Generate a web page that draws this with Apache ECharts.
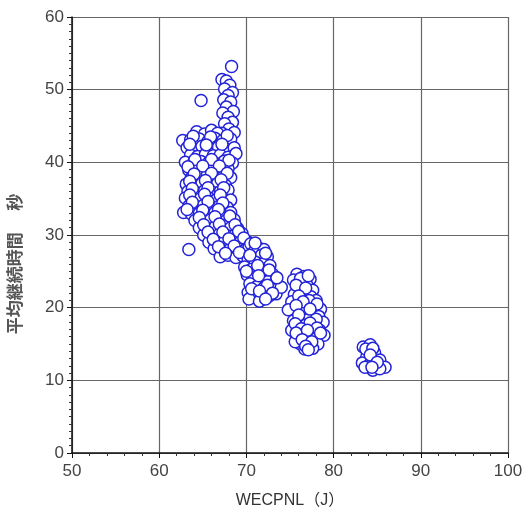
<!DOCTYPE html>
<html>
<head>
<meta charset="utf-8">
<style>
  html, body { margin: 0; padding: 0; background: #fff; }
  #chart { width: 528px; height: 519px; }
</style>
<script src="https://cdn.jsdelivr.net/npm/echarts@6/dist/echarts.min.js"></script>
</head>
<body>
<div id="chart"></div>
<script>
// Axis settings
const xMin = 50, xMax = 100, xStep = 10;
const yMin = 0, yMax = 60, yStep = 10;
const xTitle = 'WECPNL（J）';
const yTitle = '平均継続時間　 秒';

// Observations as [WECPNL, average duration] pairs, grouped by cluster
const upperStem = [
  [68.3,53.2],[67.2,51.4],[67.7,51.2],[68.1,50.6],[67.5,50.1],[68.4,49.6],[67.9,49.2],
  [67.4,48.6],[68.2,48.3],[67.7,47.6],[68.5,47.0],[67.3,46.8],[67.9,46.2],[68.4,45.5],
  [67.5,45.3],[68.0,44.6],[68.6,44.1],[67.2,44.0],[64.8,48.5]
];
const mainBody = [
  [64.3,44.2],[65.2,43.9],[66.0,44.4],[66.7,44.0],
  [62.7,43.0],[63.6,43.1],[64.6,43.2],[65.6,42.9],[66.4,43.3],[67.3,43.0],[68.2,43.2],
  [63.2,42.0],[64.0,41.8],[64.9,42.2],[65.8,41.9],[66.8,42.1],[67.7,41.8],[68.6,42.0],
  [63.6,41.0],[64.4,40.8],[65.3,41.1],[66.2,40.9],[67.0,41.0],[67.9,40.7],[68.8,41.2],
  [63.0,40.0],[63.9,39.9],[64.8,40.1],[65.7,40.0],[66.6,39.8],[67.5,40.2],[68.4,39.9],
  [63.4,38.9],[64.3,39.1],[65.2,38.8],[66.1,39.0],[67.0,38.9],[67.9,39.1],
  [63.7,37.9],[64.6,38.0],[65.5,38.2],[66.4,37.8],[67.3,38.0],[68.2,37.9],
  [63.1,37.0],[64.0,36.9],[64.9,37.1],[65.8,36.9],[66.7,37.1],[67.6,36.8],
  [63.3,36.0],[64.3,35.8],[65.2,36.1],[66.1,35.9],[67.0,36.0],[67.9,36.2],
  [63.0,35.1],[63.8,34.9],[64.7,35.0],[65.6,35.2],[66.5,34.8],[67.4,35.0],[68.2,34.8],
  [63.4,34.0],[64.2,33.8],[65.1,34.1],[66.0,33.9],[66.9,34.0],[67.8,33.8],
  [62.8,33.1],[63.7,32.9],[64.6,33.0],[65.5,32.8],[66.4,33.1],[67.3,32.9],[68.2,33.1],
  [64.1,32.0],[65.0,31.9],[65.9,32.1],[66.8,31.8],[67.7,32.0],[68.6,32.1],
  [64.6,31.0],[65.5,30.9],[66.4,31.1],[67.3,30.8],[68.2,31.0],[69.0,30.9],
  [65.1,30.0],[66.0,29.8],[66.9,30.1],[67.8,29.9],[68.7,30.0],[69.5,30.2],
  [65.7,29.0],[66.6,28.9],[67.5,29.1],[68.4,28.8],[69.3,29.0],[70.1,29.1],
  [66.3,28.1],[67.2,27.9],[68.1,28.0],[69.0,28.2],[69.8,27.9],[63.4,28.0],
  [67.0,27.0],[67.9,27.2],[68.8,26.9],[69.6,27.1],
  [63.9,43.6],[65.9,43.5],[67.8,43.7],[63.5,42.5],[65.4,42.4],[67.2,42.5],[64.1,40.4],
  [66.0,40.4],[68.0,40.3],[63.3,39.4],[65.0,39.5],[66.9,39.5],[64.0,38.4],[66.0,38.5],
  [67.8,38.5],[63.5,37.4],[65.3,37.5],[67.1,37.6],[63.8,36.4],[65.6,36.5],[67.4,36.5],
  [63.5,35.5],[65.2,35.6],[67.0,35.5],[63.8,34.5],[65.6,34.6],[67.3,34.4],[63.2,33.5],
  [65.0,33.4],[66.8,33.5],[64.6,32.4],[66.4,32.5],[68.1,32.6],[65.1,31.4],[66.9,31.5],
  [68.7,31.4],[65.6,30.4],[67.3,30.4],[69.1,30.5],[66.2,29.4],[68.0,29.5],[69.7,29.6],
  [66.8,28.4],[68.6,28.5],[70.3,28.4],[67.6,27.5],[69.2,27.6]
];
const middleBand = [
  [70.5,28.8],[71.3,28.3],[72.0,28.0],[70.8,27.6],[71.7,27.2],[72.4,27.0],[70.2,26.6],
  [71.0,26.3],[71.9,26.0],[72.7,25.8],[69.8,25.6],[70.6,25.3],[71.4,25.0],[72.2,24.8],
  [73.0,24.6],[70.1,24.5],[70.9,24.1],[71.7,23.8],[72.5,23.6],[73.3,23.5],[70.4,23.3],
  [71.2,22.9],[72.0,22.7],[72.8,22.5],[73.6,22.6],[70.2,22.1],[71.0,21.8],[71.8,21.7],
  [72.6,21.6],[73.4,21.9],[70.3,21.2],[74.0,22.8],[71.5,20.9],
  [71.0,28.9],[70.4,27.2],[72.2,27.5],[71.3,25.8],[70.0,25.0],[72.6,25.2],[71.4,24.4],
  [73.5,24.1],[70.6,22.6],[72.4,23.1],[71.5,22.3],[73.0,22.0],[72.2,21.2]
];
const lowerBand = [
  [75.8,24.6],[76.6,24.3],[77.3,23.9],[75.4,23.8],[76.2,23.4],[77.0,23.0],[77.6,22.4],
  [75.9,22.6],[76.7,22.0],[75.5,21.8],[77.4,21.5],[78.0,21.0],[76.3,21.2],[75.2,20.8],
  [77.0,20.6],[77.8,20.1],[76.0,20.2],[78.5,19.8],[75.5,19.6],[76.7,19.5],[77.5,19.2],
  [74.8,19.7],[78.3,18.8],[76.2,18.6],[77.1,18.4],[75.4,18.2],[78.8,18.0],[76.8,17.6],
  [77.8,17.5],[75.9,17.3],[75.2,16.9],[78.4,16.9],[76.5,16.6],[77.4,16.4],[78.9,16.2],
  [75.8,15.9],[76.9,15.6],[77.9,15.7],[76.2,15.0],[77.3,14.8],[78.2,15.0],[76.7,14.3],
  [77.6,14.4],[75.6,15.3],
  [76.2,24.0],[77.1,24.4],[75.7,23.1],[76.8,22.7],[76.0,21.6],[77.2,21.0],[76.5,20.8],
  [78.1,20.5],[75.7,20.3],[77.3,19.8],[76.0,19.0],[78.0,18.4],[75.6,17.8],[77.3,17.9],
  [76.3,17.1],[78.1,17.2],[75.7,16.5],[77.0,16.9],[78.5,16.5],[76.4,15.6],[77.5,15.3],
  [76.8,14.7],[77.1,14.2]
];
const farGroup = [
  [83.4,14.6],[84.2,14.9],[84.0,14.0],[84.7,13.8],[83.8,13.2],[84.4,12.8],[85.3,12.8],
  [83.3,12.4],[84.1,12.1],[84.9,12.2],[85.9,11.8],[84.5,11.4],[85.3,11.6],[83.6,11.8],
  [83.7,14.3],[84.5,14.4],[84.2,13.5],[85.0,12.5],[84.4,11.8]
];

const points = [].concat(upperStem, mainBody, middleBand, lowerBand, farGroup);

const textColor = '#444';
const fontFamily = '"Liberation Sans", Arial, "Noto Sans CJK JP", sans-serif';

const chart = echarts.init(document.getElementById('chart'), null, { renderer: 'canvas' });
chart.setOption({
  animation: false,
  backgroundColor: '#fff',
  grid: { left: 72, right: 20, top: 17, bottom: 66, containLabel: false },
  xAxis: {
    type: 'value',
    min: xMin, max: xMax, interval: xStep,
    name: xTitle,
    nameLocation: 'middle',
    nameGap: 40,
    nameTextStyle: { color: '#333', fontSize: 16, fontFamily: fontFamily },
    axisLine: { show: true, onZero: false, lineStyle: { color: '#111', width: 1.5 } },
    axisTick: { show: true, inside: false, length: 5, lineStyle: { color: '#111' } },
    minorTick: { show: true, splitNumber: 5, length: 3, lineStyle: { color: '#333' } },
    axisLabel: { color: textColor, fontSize: 17, fontFamily: fontFamily, margin: 10 },
    splitLine: { show: true, lineStyle: { color: '#666', width: 1.2 } }
  },
  yAxis: {
    type: 'value',
    min: yMin, max: yMax, interval: yStep,
    name: yTitle,
    nameLocation: 'middle',
    nameGap: 47,
    nameRotate: 90,
    nameTextStyle: {
      color: '#555', fontSize: 17, fontWeight: 'bold', fontFamily: fontFamily,
      padding: [0, 58, 0, 0]
    },
    axisLine: { show: true, onZero: false, lineStyle: { color: '#111', width: 1.5 } },
    axisTick: { show: true, inside: false, length: 5, lineStyle: { color: '#111' } },
    minorTick: { show: true, splitNumber: 10, length: 3, lineStyle: { color: '#333' } },
    axisLabel: { color: textColor, fontSize: 17, fontFamily: fontFamily, margin: 8 },
    splitLine: { show: true, lineStyle: { color: '#666', width: 1.2 } }
  },
  series: [{
    type: 'scatter',
    data: points,
    symbol: 'circle',
    symbolSize: 12,
    itemStyle: { color: '#ffffff', borderColor: '#2323d8', borderWidth: 1.5, opacity: 1 }
  }]
});
</script>
</body>
</html>
